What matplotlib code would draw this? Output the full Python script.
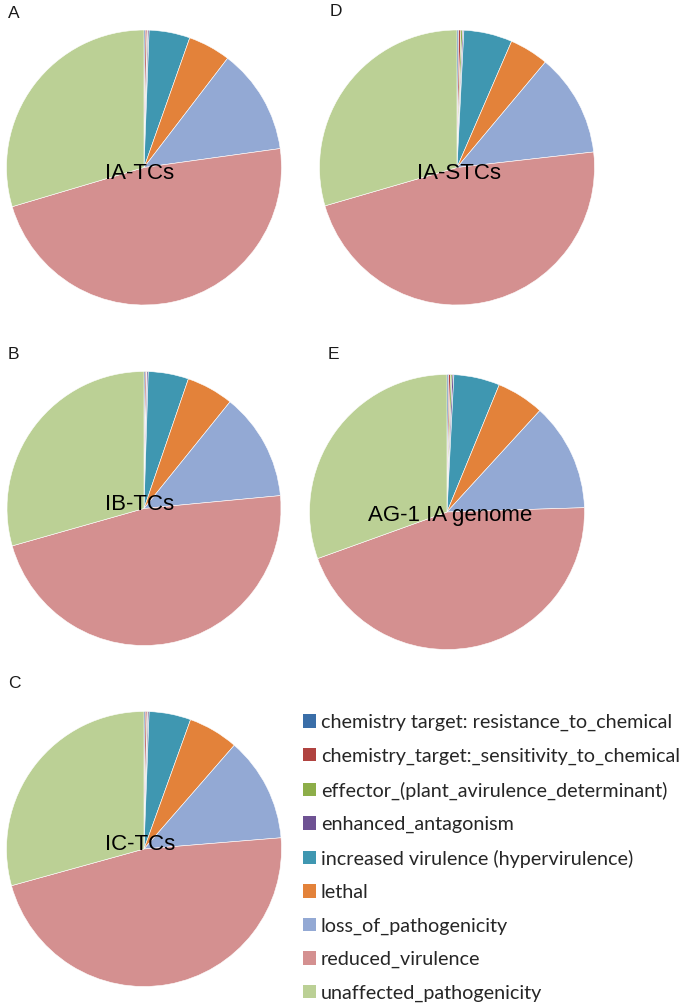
import matplotlib
matplotlib.use("Agg")
import matplotlib.pyplot as plt
from matplotlib.patches import Patch

categories = ["chemistry target: resistance_to_chemical",
              "chemistry_target:_sensitivity_to_chemical",
              "effector_(plant_avirulence_determinant)",
              "enhanced_antagonism",
              "increased virulence (hypervirulence)",
              "lethal",
              "loss_of_pathogenicity",
              "reduced_virulence",
              "unaffected_pathogenicity"]

# percentages
ia_tcs = [0.15, 0.2, 0.1, 0.15, 4.8, 5.0, 12.4, 47.6, 29.6]
ib_tcs = [0.15, 0.15, 0.05, 0.15, 4.75, 5.55, 12.7, 47.1, 29.4]
ic_tcs = [0.15, 0.2, 0.1, 0.15, 4.9, 5.9, 12.3, 47.0, 29.3]
ia_stcs = [0.2, 0.25, 0.2, 0.15, 5.7, 4.6, 12.1, 47.3, 29.5]
ag1_ia_genome = [0.2, 0.2, 0.2, 0.2, 5.4, 5.6, 12.7, 45.0, 30.5]

pie_names = ["IA-TCs", "IA-STCs", "IB-TCs", "AG-1 IA genome", "IC-TCs"]
panel_letters = ["A", "D", "B", "E", "C"]

colors = ["#3A6EA8", "#B04340", "#8DAE49", "#6E5293", "#3F97B1",
          "#E3823A", "#93A9D4", "#D49090", "#BBD095"]

W, H = 685, 1007
fig = plt.figure(figsize=(W / 100, H / 100), dpi=100)

# pie centre (px from top-left), radius, label offset, panel letter position
layout = [
    ((144, 167.5), 137.5, (-4, 6), (8, 13)),
    ((457, 167.5), 137.5, (2, 6), (330, 11)),
    ((144, 508.5), 137.0, (-4, -4), (8, 354)),
    ((447, 512.0), 137.5, (3, 3), (328, 354)),
    ((144, 849.0), 137.5, (-4, -4), (8, 684)),
]
all_values = [ia_tcs, ia_stcs, ib_tcs, ag1_ia_genome, ic_tcs]

for vals, name, letter, (c, r, off, lp) in zip(all_values, pie_names, panel_letters, layout):
    ax = fig.add_axes([(c[0] - r) / W, (H - c[1] - r) / H, 2 * r / W, 2 * r / H])
    ax.pie(vals, colors=colors, startangle=90, counterclock=False,
           wedgeprops=dict(edgecolor="white", linewidth=0.4))
    ax.set_xlim(-1, 1)
    ax.set_ylim(-1, 1)
    ax.set_aspect("equal")
    ax.text(off[0] / r, -off[1] / r, name, ha="center", va="center",
            fontsize=16, family="Liberation Sans", color="black")
    fig.text(lp[0] / W, 1 - lp[1] / H, letter,
             ha="left", va="center", fontsize=12.5, family="Liberation Sans",
             color="#1a1a1a")

handles = [Patch(facecolor=col, edgecolor="none") for col in colors]
fig.legend(handles, categories, loc="upper left",
           bbox_to_anchor=(303 / W, 1 - 714 / H), frameon=False,
           prop={"family": "Lato", "size": 14.2}, labelcolor="#262626",
           handlelength=0.66, handleheight=0.66, handletextpad=0.25,
           labelspacing=0.83, borderpad=0, borderaxespad=0)

fig.savefig("out.png", dpi=100)
